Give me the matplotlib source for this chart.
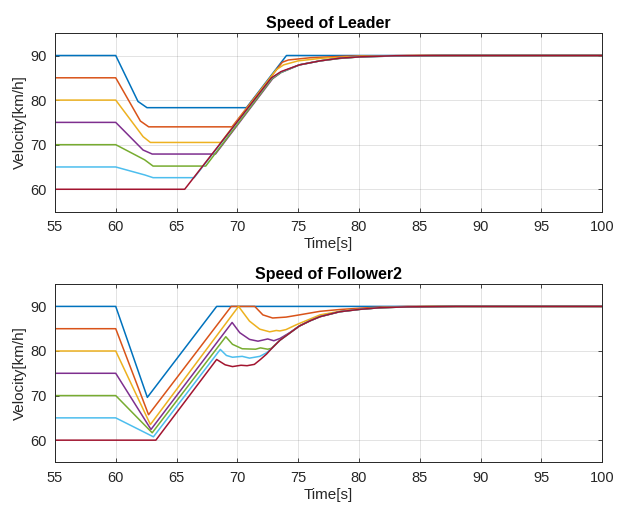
import matplotlib
matplotlib.use("Agg")
import matplotlib.pyplot as plt

plt.rcParams['font.family'] = ['Liberation Sans', 'DejaVu Sans']

# MATLAB default line colour order
colors = ['#0072BD', '#D95319', '#EDB120', '#7E2F8E', '#77AC30', '#4DBEEE', '#A2142F']

x_ticks = [55, 60, 65, 70, 75, 80, 85, 90, 95, 100]
y_ticks = [60, 70, 80, 90]

# ---- Leader speed profiles (time [s], speed [km/h]) ----
lead_t_90 = [55, 60, 61.83, 62.57, 70.75, 74.04, 100]
lead_v_90 = [90, 90, 79.7, 78.3, 78.3, 90, 90]

lead_t_85 = [55, 60, 62.03, 62.71, 69.56, 73.7, 74.2, 76.0, 79.0, 84.0, 100]
lead_v_85 = [85, 85, 75.3, 74.0, 74.0, 88.5, 89.0, 89.5, 89.85, 90, 90]

lead_t_80 = [55, 60, 62.25, 62.85, 68.65, 73.2, 73.8, 75.0, 77.0, 80.0, 85.0, 100]
lead_v_80 = [80, 80, 71.8, 70.5, 70.5, 86.8, 87.9, 88.8, 89.4, 89.8, 90, 90]

lead_t_75 = [55, 60, 62.25, 63.0, 68.2, 72.9, 73.6, 75.1, 76.8, 78.4, 80.1, 83.0, 87.0, 100]
lead_v_75 = [75, 75, 68.8, 67.9, 67.9, 84.8, 86.2, 87.9, 88.8, 89.35, 89.7, 89.9, 90, 90]

lead_t_70 = [55, 60, 62.38, 63.07, 67.4, 72.85, 73.6, 75.1, 76.8, 78.4, 80.1, 83.0, 87.0, 100]
lead_v_70 = [70, 70, 66.6, 65.2, 65.2, 84.8, 86.2, 87.9, 88.8, 89.35, 89.7, 89.9, 90, 90]

lead_t_65 = [55, 60, 62.4, 63.07, 66.45, 72.8, 73.6, 75.1, 76.8, 78.4, 80.1, 83.0, 87.0, 100]
lead_v_65 = [65, 65, 63.2, 62.6, 62.6, 84.9, 86.3, 87.9, 88.8, 89.4, 89.7, 89.9, 90, 90]

lead_t_60 = [55, 65.67, 72.8, 73.6, 75.1, 76.8, 78.4, 80.1, 83.0, 86.0, 100]
lead_v_60 = [60, 60, 85.0, 86.4, 87.9, 88.8, 89.4, 89.7, 89.95, 90, 90]

# ---- Follower2 speed profiles ----
f2_t_90 = [55, 60, 62.6, 68.3, 100]
f2_v_90 = [90, 90, 69.6, 90, 90]

f2_t_85 = [55, 60, 62.7, 69.5, 71.43, 72.1, 72.9, 74.0, 75.1, 76.8, 78.4, 80.1, 81.4, 84.0, 100]
f2_v_85 = [85, 85, 65.7, 90, 90, 88.1, 87.4, 87.6, 88.1, 88.9, 89.3, 89.6, 89.8, 90, 90]

f2_t_80 = [55, 60, 62.85, 70.1, 71.0, 71.84, 72.66, 73.2, 73.5, 74.0, 74.86, 76.8, 78.4, 80.1, 82.0, 86.0, 100]
f2_v_80 = [80, 80, 63.5, 90, 86.7, 84.9, 84.3, 84.6, 84.5, 84.8, 85.9, 88.1, 88.9, 89.4, 89.75, 90, 90]

f2_t_75 = [55, 60, 62.9, 69.57, 70.2, 71.0, 71.7, 72.5, 73.0, 73.5, 74.3, 75.1, 76.0, 76.8, 78.4, 80.1, 81.7, 84.0, 88.0, 100]
f2_v_75 = [75, 75, 62.4, 86.4, 84.1, 82.6, 82.2, 82.7, 82.3, 82.8, 84.1, 85.6, 86.8, 87.7, 88.8, 89.35, 89.7, 89.9, 90, 90]

f2_t_70 = [55, 60, 63.0, 69.05, 69.6, 70.4, 71.5, 71.9, 72.5, 72.8, 73.5, 74.3, 75.1, 76.0, 76.8, 78.4, 80.1, 81.7, 84.0, 88.0, 100]
f2_v_70 = [70, 70, 61.65, 83.2, 81.5, 80.5, 80.4, 80.7, 80.4, 80.6, 82.4, 84.0, 85.6, 86.8, 87.7, 88.8, 89.35, 89.7, 89.9, 90, 90]

f2_t_65 = [55, 60, 63.1, 68.6, 69.1, 69.6, 70.4, 71.0, 71.85, 72.4, 72.8, 73.5, 74.3, 75.1, 76.0, 76.8, 78.4, 80.1, 81.7, 84.0, 88.0, 100]
f2_v_65 = [65, 65, 60.75, 80.35, 79.0, 78.6, 78.8, 78.4, 78.8, 79.6, 80.5, 82.4, 84.0, 85.6, 86.8, 87.7, 88.8, 89.35, 89.7, 89.9, 90, 90]

f2_t_60 = [55, 63.3, 68.3, 69.0, 69.6, 70.3, 70.8, 71.4, 71.9, 72.4, 72.8, 73.5, 74.3, 75.1, 76.0, 76.8, 78.4, 80.1, 81.7, 84.0, 88.0, 100]
f2_v_60 = [60, 60, 78.1, 76.9, 76.5, 76.8, 76.7, 77.0, 78.1, 79.3, 80.5, 82.4, 84.0, 85.6, 86.8, 87.7, 88.8, 89.35, 89.7, 89.9, 90, 90]

leader = [(lead_t_90, lead_v_90), (lead_t_85, lead_v_85), (lead_t_80, lead_v_80),
          (lead_t_75, lead_v_75), (lead_t_70, lead_v_70), (lead_t_65, lead_v_65),
          (lead_t_60, lead_v_60)]
follower2 = [(f2_t_90, f2_v_90), (f2_t_85, f2_v_85), (f2_t_80, f2_v_80),
             (f2_t_75, f2_v_75), (f2_t_70, f2_v_70), (f2_t_65, f2_v_65),
             (f2_t_60, f2_v_60)]

axis_gray = '#262626'

fig = plt.figure(figsize=(6.17, 5.11), dpi=100)
ax1 = fig.add_axes([0.089, 0.586, 0.887, 0.349])
ax2 = fig.add_axes([0.089, 0.095, 0.887, 0.349])


def style(ax, title):
    ax.set_xlim(55, 100)
    ax.set_ylim(55, 95)
    ax.set_xticks(x_ticks)
    ax.set_yticks(y_ticks)
    ax.grid(True, color=axis_gray, alpha=0.15, linewidth=0.6)
    ax.set_axisbelow(True)
    ax.tick_params(direction='in', length=3, width=0.6, colors=axis_gray,
                   labelsize=10.5, top=True, right=True, pad=6)
    for s in ax.spines.values():
        s.set_color(axis_gray)
        s.set_linewidth(0.7)
    ax.set_xlabel('Time[s]', fontsize=11, color=axis_gray, labelpad=2)
    ax.set_ylabel('Velocity[km/h]', fontsize=11, color=axis_gray, labelpad=2)
    ax.set_title(title, fontsize=11.5, fontweight='bold', color='black', pad=4)


for ax, series, title in [(ax1, leader, 'Speed of Leader'),
                          (ax2, follower2, 'Speed of Follower2')]:
    for (t, v), c in zip(series, colors):
        ax.plot(t, v, color=c, linewidth=1.1)
    style(ax, title)

fig.savefig('out.png', dpi=100, facecolor='white')
